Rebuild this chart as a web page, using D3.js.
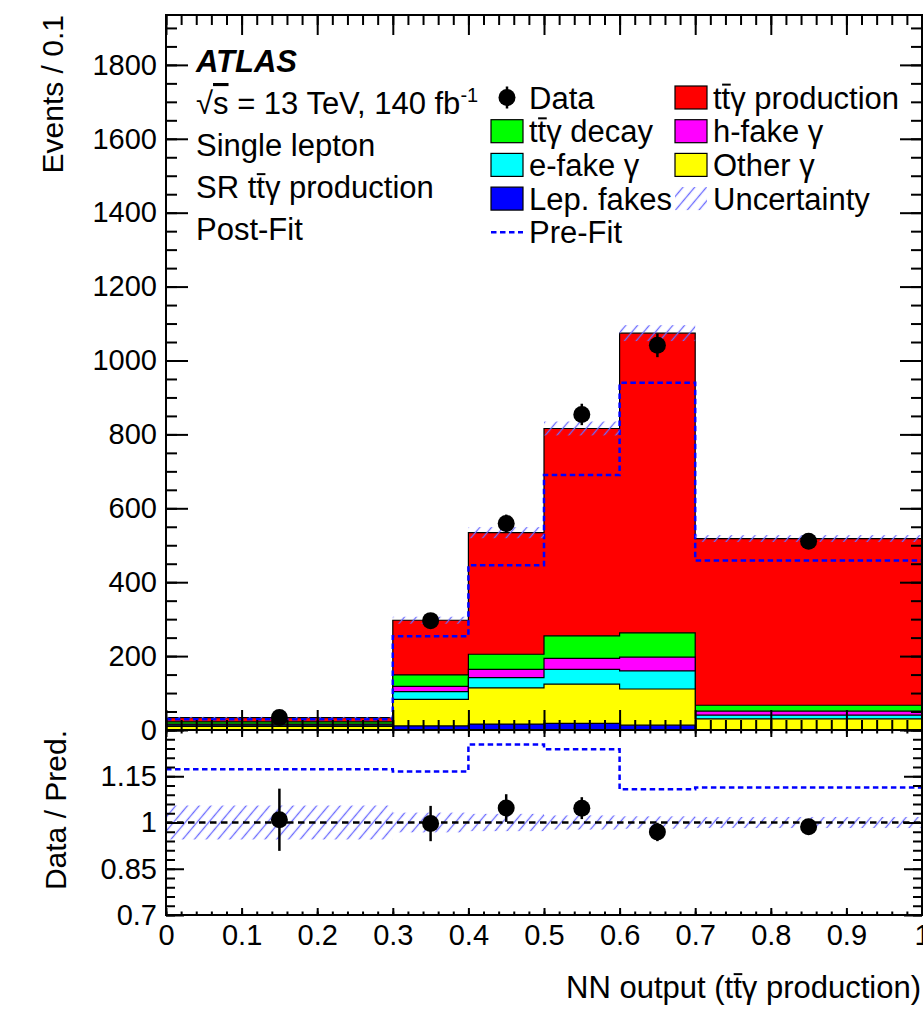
<!DOCTYPE html>
<html>
<head>
<meta charset="utf-8">
<script src="https://cdn.jsdelivr.net/npm/d3@7"></script>
<style>
  body { margin: 0; background: #fff; }
  svg { display: block; }
</style>
</head>
<body>
<svg id="chart"></svg>
<script>
// NN output binning (first and last bins are wide, shown as events / 0.1)
const binEdges = [0, 0.3, 0.4, 0.5, 0.6, 0.7, 1.0];
const binCenters = [0.15, 0.35, 0.45, 0.55, 0.65, 0.85];

// post-fit samples, bottom of the stack first
const lepFakes   = [1, 11, 16, 18, 13, 1];
const otherGamma = [9, 72, 98, 106, 98, 29];
const eFakeGamma = [3, 21, 28, 40, 49, 10];
const hFakeGamma = [3, 14, 22, 30, 37, 11];
const ttyDecay   = [6, 31, 41, 61, 66, 16];
const ttyProd    = [11.7, 148, 329, 561, 811, 451];

const dataValues = [34, 296, 559, 854, 1041, 511];
const dataErrors = [3.4, 17, 24, 29, 32, 13];
const preFitTotal = [29, 254, 446, 690, 940, 459];
const relUncertainty = [0.055, 0.032, 0.028, 0.023, 0.02, 0.018];

// axis ticks
const xTicks = [0, 0.1, 0.2, 0.3, 0.4, 0.5, 0.6, 0.7, 0.8, 0.9, 1];
const yTicks = [0, 200, 400, 600, 800, 1000, 1200, 1400, 1600, 1800];
const ratioTicks = [0.7, 0.85, 1, 1.15];

const FONT = '"Liberation Sans", Arial, Helvetica, sans-serif';
const TEXT_SIZE = 31;

class RatioPlot {

    constructor( config ) {
        this.config = {
            parent: config.parent,
            width: config.width || 923,
            height: config.height || 1012,
            left: 166, right: 922,
            top: 15, split: 730, bottom: 915,
            yMax: 1935
        }
        this.init();
    }

    init() {
        let self = this;
        let c = self.config;

        self.svg = d3.select( c.parent )
            .attr('width', c.width)
            .attr('height', c.height)
            .attr('font-family', FONT);

        self.x = d3.scaleLinear().domain([0, 1]).range([c.left, c.right]);
        self.y = d3.scaleLinear().domain([0, c.yMax]).range([c.split, c.top]);
        self.yr = d3.scaleLinear().domain([0.7, 1.3]).range([c.bottom, c.split]);

        const defs = self.svg.append('defs');
        const pat = defs.append('pattern')
            .attr('id', 'hatch')
            .attr('patternUnits', 'userSpaceOnUse')
            .attr('width', 9).attr('height', 9)
            .attr('patternTransform', 'rotate(40)');
        pat.append('line')
            .attr('x1', 4.5).attr('x2', 4.5).attr('y1', -1).attr('y2', 10)
            .attr('stroke', '#6b6bff').attr('stroke-width', 1.3);

        defs.append('clipPath').attr('id', 'clipMain')
            .append('rect').attr('x', c.left).attr('y', c.top)
            .attr('width', c.right - c.left).attr('height', c.split - c.top);
        defs.append('clipPath').attr('id', 'clipRatio')
            .append('rect').attr('x', c.left).attr('y', c.split)
            .attr('width', c.right - c.left).attr('height', c.bottom - c.split);

        self.main = self.svg.append('g').attr('clip-path', 'url(#clipMain)');
        self.ratio = self.svg.append('g').attr('clip-path', 'url(#clipRatio)');

        self.samples = [
            { key: 'lep',   label: 'Lep. fakes',        color: '#0000ff', values: lepFakes },
            { key: 'other', label: 'Other \u03b3',       color: '#ffff00', values: otherGamma },
            { key: 'efake', label: 'e-fake \u03b3',      color: '#00ffff', values: eFakeGamma },
            { key: 'hfake', label: 'h-fake \u03b3',      color: '#ff00ff', values: hFakeGamma },
            { key: 'decay', label: 'tt\u0304\u03b3 decay',      color: '#00ff00', values: ttyDecay },
            { key: 'prod',  label: 'tt\u0304\u03b3 production', color: '#ff0000', values: ttyProd }
        ];

        self.rows = binCenters.map((d, i) => {
            let row = { bin: i };
            self.samples.forEach(s => row[s.key] = s.values[i]);
            return row;
        });
        self.stack = d3.stack().keys(self.samples.map(s => s.key))( self.rows );
        self.total = self.rows.map((r, i) => self.stack[self.stack.length - 1][i][1]);
    }

    // points of a step outline over the bins
    steps( values ) {
        let pts = [];
        values.forEach((v, i) => {
            pts.push({ x: binEdges[i], v: v });
            pts.push({ x: binEdges[i + 1], v: v });
        });
        return pts;
    }

    render() {
        let self = this;
        let c = self.config;

        // stacked histograms, ROOT style: each layer filled from zero to its top
        const area = d3.area()
            .x(d => self.x(d.x))
            .y0(self.y(0))
            .y1(d => self.y(d.v));
        self.stack.slice().reverse().forEach((layer, li) => {
            const s = self.samples[self.samples.length - 1 - li];
            self.main.append('path')
                .attr('d', area( self.steps(layer.map(d => d[1])) ))
                .attr('fill', s.color)
                .attr('stroke', '#000')
                .attr('stroke-width', 1.2);
        });

        // pre-fit prediction
        const line = d3.line().x(d => self.x(d.x)).y(d => self.y(d.v));
        self.main.append('path')
            .attr('d', line( self.steps(preFitTotal) ))
            .attr('fill', 'none')
            .attr('stroke', '#0000ff')
            .attr('stroke-width', 2.5)
            .attr('stroke-dasharray', '5.5,3.5');

        // uncertainty band
        self.main.selectAll('rect.unc')
            .data(self.total)
            .enter().append('rect')
            .attr('class', 'unc')
            .attr('x', (d, i) => self.x(binEdges[i]))
            .attr('width', (d, i) => self.x(binEdges[i + 1]) - self.x(binEdges[i]))
            .attr('y', (d, i) => self.y(d * (1 + relUncertainty[i])))
            .attr('height', (d, i) => self.y(d * (1 - relUncertainty[i])) - self.y(d * (1 + relUncertainty[i])))
            .attr('fill', 'url(#hatch)');

        // data
        self.points( self.main, self.y, dataValues, dataErrors );

        // ratio panel
        self.ratio.selectAll('rect.unc')
            .data(relUncertainty)
            .enter().append('rect')
            .attr('class', 'unc')
            .attr('x', (d, i) => self.x(binEdges[i]))
            .attr('width', (d, i) => self.x(binEdges[i + 1]) - self.x(binEdges[i]))
            .attr('y', d => self.yr(1 + d))
            .attr('height', d => self.yr(1 - d) - self.yr(1 + d))
            .attr('fill', 'url(#hatch)');

        self.ratio.append('line')
            .attr('x1', c.left).attr('x2', c.right)
            .attr('y1', self.yr(1)).attr('y2', self.yr(1))
            .attr('stroke', '#000')
            .attr('stroke-width', 2.5)
            .attr('stroke-dasharray', '6.5,4.5');

        const rline = d3.line().x(d => self.x(d.x)).y(d => self.yr(d.v));
        self.ratio.append('path')
            .attr('d', rline( self.steps(dataValues.map((d, i) => d / preFitTotal[i])) ))
            .attr('fill', 'none')
            .attr('stroke', '#0000ff')
            .attr('stroke-width', 2.5)
            .attr('stroke-dasharray', '5.5,3.5');

        self.points( self.ratio, self.yr,
            dataValues.map((d, i) => d / self.total[i]),
            dataErrors.map((d, i) => d / self.total[i]) );

        self.axes();
        self.legend();
        self.labels();
    }

    points( g, yScale, values, errors ) {
        g.selectAll(null)
            .data(values)
            .enter().append('line')
            .attr('x1', (d, i) => this.x(binCenters[i]))
            .attr('x2', (d, i) => this.x(binCenters[i]))
            .attr('y1', (d, i) => yScale(d - errors[i]))
            .attr('y2', (d, i) => yScale(d + errors[i]))
            .attr('stroke', '#000')
            .attr('stroke-width', 2.5);
        g.selectAll(null)
            .data(values)
            .enter().append('circle')
            .attr('cx', (d, i) => this.x(binCenters[i]))
            .attr('cy', d => yScale(d))
            .attr('r', 8.5)
            .attr('fill', '#000');
    }

    tickAxis( axisGen, scale, values, size, transform, format ) {
        const g = this.svg.append('g')
            .attr('transform', transform)
            .call(axisGen(scale)
                .tickValues(values)
                .tickSize(size)
                .tickSizeOuter(0)
                .tickPadding(9)
                .tickFormat(format || (() => '')));
        g.attr('font-family', FONT);
        g.select('.domain').remove();
        g.selectAll('line').attr('stroke', '#000').attr('stroke-width', 2);
        g.selectAll('text').attr('font-size', 29).attr('fill', '#000');
        return g;
    }

    axes() {
        let self = this;
        let c = self.config;
        const xMinor = d3.range(0, 1.001, 0.02);
        const yMinor = d3.range(0, c.yMax, 50);
        const rMinor = d3.range(0.7, 1.301, 0.03);
        const rMajor = [0.7, 0.85, 1, 1.15, 1.3];

        // main pad
        self.tickAxis(d3.axisLeft, self.y, yTicks, -22, `translate(${c.left},0)`, d => d);
        self.tickAxis(d3.axisLeft, self.y, yMinor, -11, `translate(${c.left},0)`);
        self.tickAxis(d3.axisRight, self.y, yTicks, -22, `translate(${c.right},0)`);
        self.tickAxis(d3.axisRight, self.y, yMinor, -11, `translate(${c.right},0)`);
        self.tickAxis(d3.axisTop, self.x, xTicks, -20, `translate(0,${c.top})`);
        self.tickAxis(d3.axisTop, self.x, xMinor, -10, `translate(0,${c.top})`);
        self.tickAxis(d3.axisBottom, self.x, xTicks, -20, `translate(0,${c.split})`);
        self.tickAxis(d3.axisBottom, self.x, xMinor, -10, `translate(0,${c.split})`);

        // ratio pad
        self.tickAxis(d3.axisLeft, self.yr, rMajor, -18, `translate(${c.left},0)`,
            d => ratioTicks.includes(d) ? d : '');
        self.tickAxis(d3.axisLeft, self.yr, rMinor, -9, `translate(${c.left},0)`);
        self.tickAxis(d3.axisRight, self.yr, rMajor, -18, `translate(${c.right},0)`);
        self.tickAxis(d3.axisRight, self.yr, rMinor, -9, `translate(${c.right},0)`);
        self.tickAxis(d3.axisTop, self.x, xTicks, -7, `translate(0,${c.split})`);
        self.tickAxis(d3.axisTop, self.x, xMinor, -3.5, `translate(0,${c.split})`);
        self.tickAxis(d3.axisBottom, self.x, xTicks, -7, `translate(0,${c.bottom})`, d => d);
        self.tickAxis(d3.axisBottom, self.x, xMinor, -3.5, `translate(0,${c.bottom})`);

        // frames
        [[c.top, c.split], [c.split, c.bottom]].forEach(p => {
            self.svg.append('rect')
                .attr('x', c.left).attr('y', p[0])
                .attr('width', c.right - c.left).attr('height', p[1] - p[0])
                .attr('fill', 'none')
                .attr('stroke', '#000')
                .attr('stroke-width', 2);
        });
    }

    // writes a label; "t\u0304" becomes a t with a bar drawn over it
    richText( sel, str, size ) {
        const bars = [];
        let plain = '';
        str.split('t\u0304').forEach((p, i) => {
            if (i > 0) { bars.push(plain.length); plain += 't'; }
            plain += p;
        });
        sel.attr('font-size', size).text(plain);
        const node = sel.node();
        const parent = d3.select(node.parentNode);
        bars.forEach(k => {
            const a = node.getStartPositionOfChar(k);
            const b = node.getEndPositionOfChar(k);
            parent.append('line')
                .attr('x1', a.x + 0.5).attr('x2', b.x + 0.5)
                .attr('y1', a.y - 0.77 * size).attr('y2', a.y - 0.77 * size)
                .attr('stroke', '#000')
                .attr('stroke-width', 2);
        });
        return sel;
    }

    legend() {
        let self = this;
        const col = [491, 675];
        const rowY = d => 97.5 + 33.7 * d;
        const s = {};
        self.samples.forEach(d => s[d.key] = d);

        const entries = [
            { c: 0, r: 0, label: 'Data', type: 'data' },
            { c: 1, r: 0, label: s.prod.label, color: s.prod.color },
            { c: 0, r: 1, label: s.decay.label, color: s.decay.color },
            { c: 1, r: 1, label: s.hfake.label, color: s.hfake.color },
            { c: 0, r: 2, label: s.efake.label, color: s.efake.color },
            { c: 1, r: 2, label: s.other.label, color: s.other.color },
            { c: 0, r: 3, label: s.lep.label, color: s.lep.color },
            { c: 1, r: 3, label: 'Uncertainty', type: 'hatch' },
            { c: 0, r: 4, label: 'Pre-Fit', type: 'line' }
        ];

        const g = self.svg.append('g');
        entries.forEach(e => {
            const x0 = col[e.c], cy = rowY(e.r);
            if (e.type === 'data') {
                g.append('line').attr('x1', x0 + 16).attr('x2', x0 + 16)
                    .attr('y1', cy - 11).attr('y2', cy + 11)
                    .attr('stroke', '#000').attr('stroke-width', 2.5);
                g.append('circle').attr('cx', x0 + 16).attr('cy', cy).attr('r', 8.5);
            } else if (e.type === 'hatch') {
                g.append('rect').attr('x', x0).attr('y', cy - 11.5)
                    .attr('width', 32).attr('height', 23)
                    .attr('fill', 'url(#hatch)');
            } else if (e.type === 'line') {
                g.append('line').attr('x1', x0).attr('x2', x0 + 32)
                    .attr('y1', cy).attr('y2', cy)
                    .attr('stroke', '#0000ff').attr('stroke-width', 2.5)
                    .attr('stroke-dasharray', '5.5,3.5');
            } else {
                g.append('rect').attr('x', x0).attr('y', cy - 11.5)
                    .attr('width', 32).attr('height', 23)
                    .attr('fill', e.color)
                    .attr('stroke', '#000').attr('stroke-width', 1.2);
            }
            self.richText( g.append('text')
                .attr('x', x0 + 38).attr('y', cy + 11), e.label, TEXT_SIZE );
        });
    }

    labels() {
        let self = this;
        let c = self.config;
        const g = self.svg.append('g').attr('font-size', TEXT_SIZE).attr('fill', '#000');

        g.append('text').attr('x', 196).attr('y', 72)
            .attr('font-weight', 'bold').attr('font-style', 'italic')
            .text('ATLAS');

        const cm = g.append('text').attr('x', 196).attr('y', 114);
        cm.append('tspan').text('\u221a');
        cm.append('tspan').style('text-decoration', 'overline').text('s');
        cm.append('tspan').text(' = 13 TeV, 140 fb');
        cm.append('tspan').attr('font-size', 20).attr('dy', -12).text('-1');

        g.append('text').attr('x', 196).attr('y', 156).text('Single lepton');
        self.richText( g.append('text').attr('x', 196).attr('y', 198), 'SR tt\u0304\u03b3 production', TEXT_SIZE );
        g.append('text').attr('x', 196).attr('y', 240).text('Post-Fit');

        g.append('text')
            .attr('transform', `translate(63,${c.top}) rotate(-90)`)
            .attr('text-anchor', 'end')
            .attr('font-size', 30)
            .text('Events / 0.1');
        g.append('text')
            .attr('transform', `translate(66,${c.split}) rotate(-90)`)
            .attr('text-anchor', 'end')
            .attr('font-size', 30)
            .text('Data / Pred.');

        self.richText( g.append('text')
            .attr('x', 921).attr('y', 998)
            .attr('text-anchor', 'end'), 'NN output (tt\u0304\u03b3 production)', TEXT_SIZE );
    }
}

let plot = new RatioPlot({ parent: '#chart', width: 923, height: 1012 });
plot.render();
</script>
</body>
</html>
